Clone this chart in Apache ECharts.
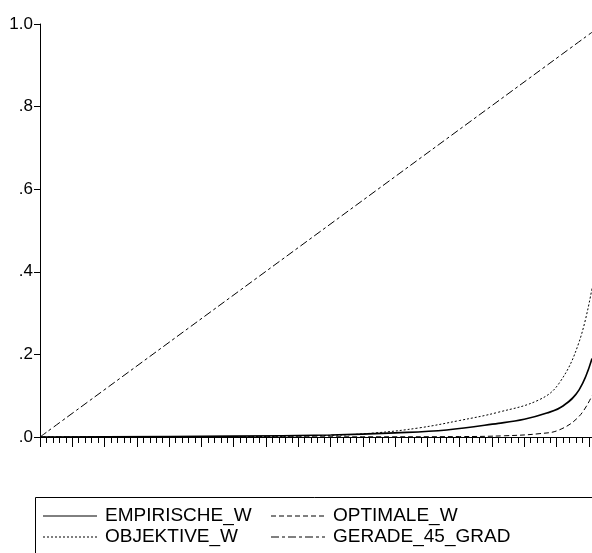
<!DOCTYPE html>
<html><head><meta charset="utf-8">
<script src="https://cdn.jsdelivr.net/npm/echarts@6/dist/echarts.min.js"></script>
<style>html,body{margin:0;padding:0;background:#fff}#c{width:592px;height:553px}</style>
</head><body><div id="c"></div>
<script>
// x positions are observation indices, y values are weights
var empirische = [[0,0],[30,0.002],[45,0.005],[55,0.01],[63,0.017],[71,0.033],[75,0.043],[78.5,0.058],[81,0.075],[83.5,0.114],[85.5,0.19]];
var optimale = [[0,0],[50,0.0005],[65,0.001],[72,0.003],[77.3,0.008],[80.4,0.017],[83.5,0.05],[85.5,0.1]];
var objektive = [[0,0],[30,0.001],[45,0.004],[52,0.01],[58.7,0.022],[65,0.04],[71,0.06],[77.3,0.09],[80.4,0.13],[83.5,0.23],[85.5,0.36]];
var gerade = [[0,0],[85.5,0.98]];
var yTicks = {0:'.0',0.2:'.2',0.4:'.4',0.6:'.6',0.8:'.8',1:'1.0'};
var legendNames = ['EMPIRISCHE_W', 'OPTIMALE_W', 'OBJEKTIVE_W', 'GERADE_45_GRAD'];
var dashes = ['solid', [5, 3], [2, 2], [8, 3, 3, 3]];
var widths = [1.6, 1, 1, 1];

var chart = echarts.init(document.getElementById('c'));
var series = [];
var legendGraphics = [{ type: 'rect', shape: { x: 35.5, y: 497.5, width: 570, height: 80 },
  style: { fill: 'none', stroke: '#000', lineWidth: 1 } }];
var datasets = [empirische, optimale, objektive, gerade];
legendNames.forEach(function (name, i) {
  series.push({ name: name, type: 'line', data: datasets[i], smooth: 0.4, symbol: 'none',
    lineStyle: { color: '#000', width: widths[i], type: dashes[i] } });
  var lx = i % 2 === 0 ? 43 : 271;
  var ly = i < 2 ? 516 : 537;
  legendGraphics.push({ type: 'line', shape: { x1: lx, y1: ly, x2: lx + 54, y2: ly },
    style: { stroke: '#000', lineWidth: 1, lineDash: dashes[i] === 'solid' ? null : dashes[i] } });
  legendGraphics.push({ type: 'text', x: lx + 62, y: ly, style: { text: name, fill: '#000',
    font: '19px "Liberation Sans"', verticalAlign: 'middle' } });
});

chart.setOption({
  animation: false,
  grid: { left: 40, right: 0, top: 24, bottom: 116 },
  xAxis: { type: 'value', min: 0, max: 85.5, interval: 5,
    axisLine: { lineStyle: { color: '#000' } },
    axisTick: { length: 10, lineStyle: { color: '#000' } },
    minorTick: { show: true, splitNumber: 5, length: 6, lineStyle: { color: '#000' } },
    axisLabel: { show: false }, splitLine: { show: false } },
  yAxis: { type: 'value', min: 0, max: 1, interval: 0.2,
    axisLine: { show: true, lineStyle: { color: '#000' } },
    axisTick: { show: true, length: 6, lineStyle: { color: '#000' } },
    axisLabel: { color: '#000', fontSize: 17, fontFamily: 'Liberation Sans', margin: 7,
      formatter: function (v) { return yTicks[Math.round(v * 10) / 10]; } },
    splitLine: { show: false } },
  graphic: legendGraphics,
  series: series
});
</script></body></html>
